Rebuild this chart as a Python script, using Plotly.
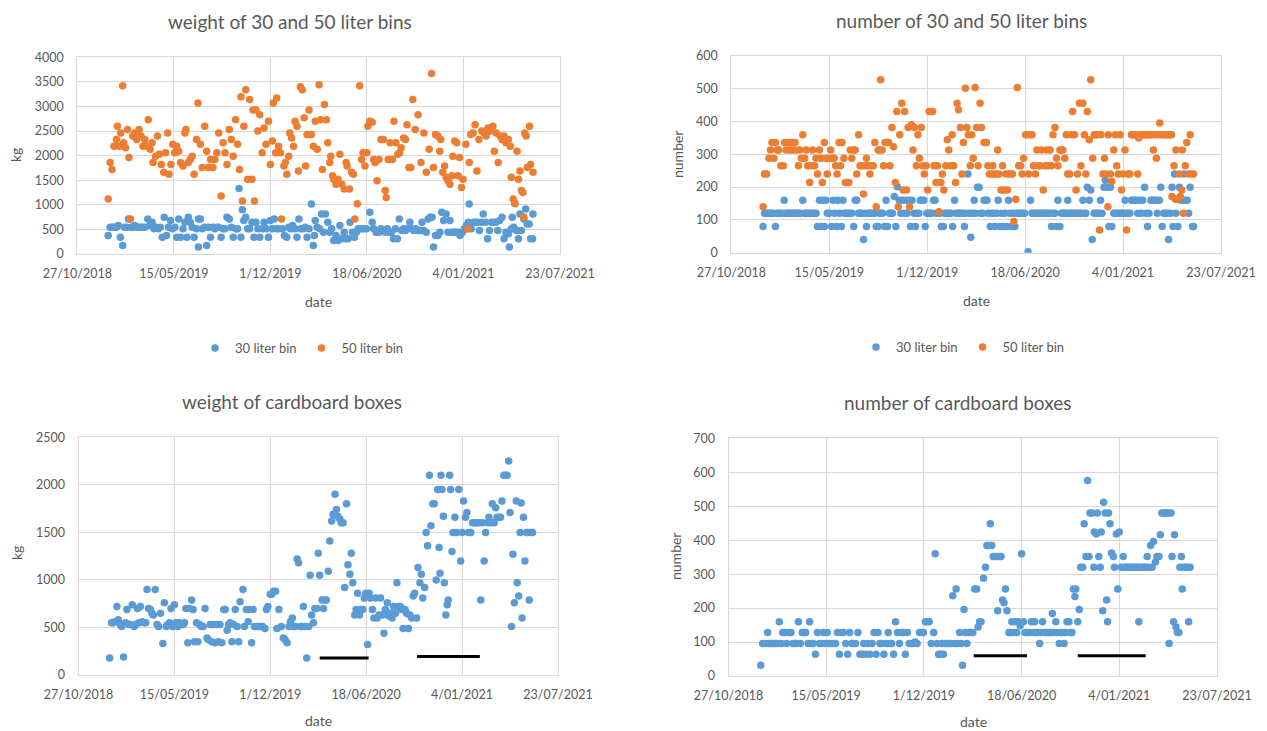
import pandas as pd
import plotly.graph_objects as go

START = pd.Timestamp("2018-10-27")
X_END = "2021-07-23"
x_tick_days = [0, 200, 400, 600, 800, 1000]
x_tick_labels = ["27/10/2018", "15/05/2019", "1/12/2019", "18/06/2020", "4/01/2021", "23/07/2021"]

# ---- data: (days since 27/10/2018, value) ----
bin30_weight = [(64,377),(68,545),(72,545),(76,545),(81,545),(85,579),(89,343),(94,175),(98,545),(102,545),
(106,713),(111,545),(115,545),(119,579),(123,545),(128,545),(132,545),(136,545),(140,545),(146,713),
(150,579),(155,646),(159,511),(163,545),(168,511),(172,545),(176,343),(180,747),(185,377),(189,545),
(193,680),(197,511),(202,545),(206,343),(210,713),(214,343),(219,511),(223,646),(227,343),(230,747),
(234,646),(238,545),(242,343),(247,511),(251,713),(251,141),(255,713),(259,511),(264,545),(268,175),
(272,545),(276,343),(281,545),(285,511),(289,545),(293,545),(298,343),(302,511),(306,511),(310,747),
(315,713),(319,545),(323,343),(328,511),(332,511),(335,1332),(339,343),(342,902),(345,680),(349,747),
(353,511),(357,511),(362,646),(366,343),(370,646),(374,511),(378,343),(383,511),(387,646),(391,511),
(396,343),(400,680),(404,511),(408,713),(413,511),(417,511),(425,511),(429,377),(434,343),(438,545),
(442,511),(446,579),(451,511),(455,343),(459,713),(463,511),(468,511),(472,545),(476,343),(480,511),
(485,1016),(489,175),(491,377),(493,680),(497,545),(502,511),(506,814),(510,444),(514,814),(519,646),
(523,444),(527,511),(531,276),(536,377),(540,276),(544,579),(548,310),(553,444),(557,310),(561,310),
(565,646),(570,444),(574,343),(578,444),(582,511),(587,511),(591,511),(595,511),(599,511),(606,848),
(611,646),(614,511),(619,444),(625,444),(629,511),(634,478),(638,444),(642,511),(646,444),(651,444),
(655,310),(659,511),(663,310),(667,713),(672,478),(676,511),(680,478),(684,511),(689,646),(693,511),
(697,478),(701,511),(706,478),(710,478),(714,646),(718,478),(723,444),(727,713),(731,747),(735,747),
(738,141),(742,377),(747,377),(751,444),(755,848),(759,680),(764,814),(768,444),(772,680),(776,444),
(781,444),(785,444),(789,444),(793,377),(798,444),(802,511),(806,579),(810,646),(812,1016),(816,511),
(820,646),(824,646),(829,646),(833,478),(837,646),(841,814),(846,646),(850,310),(854,478),(858,646),
(863,646),(867,646),(871,478),(875,680),(880,747),(884,310),(888,444),(893,411),(895,141),(899,511),
(901,747),(904,545),(906,1036),(910,478),(914,310),(917,814),(920,478),(925,713),(929,915),(932,612),
(936,612),(939,310),(943,310),(944,814)]

bin50_weight = [(64,1120),(68,1860),(72,1720),(76,2190),(81,2330),(83,2600),(87,2190),(90,2460),(94,3420),(96,2260),
(100,2160),(104,2530),(107,1960),(110,710),(115,2400),(119,2460),(123,2330),(128,2530),(132,2400),(136,2190),
(140,2330),(145,2190),(147,2730),(151,2130),(155,2260),(157,1860),(162,1990),(166,2400),(170,2030),(174,1820),
(179,1660),(183,2060),(187,2460),(190,1620),(194,1820),(198,2230),(202,2060),(206,2190),(210,2090),(214,1860),
(219,1790),(223,2460),(225,2530),(230,1860),(234,1920),(238,1990),(242,1620),(247,2330),(250,3070),(255,2230),
(259,1760),(264,2600),(268,2090),(272,1760),(276,1920),(281,1760),(285,1920),(289,2060),(293,2460),(298,1180),
(302,2260),(306,2060),(310,1820),(315,2530),(319,2330),(323,1990),(328,2730),(332,2230),(336,1720),(339,3200),
(342,1080),(345,2600),(349,3340),(353,1520),(357,3140),(362,1520),(364,2930),(367,1080),(370,2930),(374,2500),
(378,2830),(383,2060),(387,2560),(391,2230),(396,2700),(400,1820),(404,2300),(406,3070),(411,2060),(413,3170),
(417,2190),(421,2060),(423,710),(428,1790),(431,1860),(434,1620),(438,1990),(440,2460),(444,2360),(448,2190),
(451,2700),(455,2600),(458,1690),(462,3400),(466,3340),(470,2770),(473,1790),(476,2430),(480,2930),(485,2430),
(489,2190),(493,2700),(497,2130),(501,3440),(504,2730),(508,1720),(512,3040),(516,2730),(519,2260),(523,1860),
(525,1990),(529,1590),(531,1520),(536,1420),(540,1520),(544,2030),(548,1420),(553,1320),(557,1860),(559,1790),
(564,1320),(568,1660),(572,1620),(575,710),(580,1020),(585,3420),(589,1920),(592,2060),(596,1790),(600,2060),
(602,2600),(606,2700),(611,2680),(614,1920),(617,1860),(621,1490),(625,1920),(629,2330),(634,2330),(638,1290),
(640,1150),(644,1920),(648,2260),(653,1920),(656,2700),(660,2260),(664,2030),(668,2060),(671,2160),(676,2360),
(680,2330),(683,2630),(687,1760),(691,1760),(695,3140),(700,2530),(706,2830),(712,1860),(718,2460),(723,1660),
(729,2130),(734,3670),(738,1760),(742,2430),(747,2400),(751,2090),(753,2330),(757,1660),(761,1790),(764,1560),
(768,1490),(772,1420),(776,1590),(778,1990),(782,2300),(786,2260),(789,1590),(792,1960),(796,1350),(799,1520),
(805,2230),(809,510),(812,1860),(815,2430),(820,2460),(824,2630),(828,1690),(832,2330),(838,2500),(843,2460),
(847,2400),(851,2560),(855,2500),(861,2600),(864,2090),(868,2460),(872,1860),(876,2400),(880,2330),(884,2400),
(888,2260),(893,2330),(897,2190),(899,1560),(903,1120),(907,1020),(911,2090),(914,1520),(917,1690),(920,1290),
(923,1250),(925,750),(927,2460),(930,2400),(932,1760),(937,2600),(939,1820),(944,1660)]

bin30_count = [(65,80),(68,120),(72,120),(75,120),(78,120),(82,120),(85,120),(90,80),(93,120),(97,120),
(100,120),(103,120),(108,160),(111,120),(115,120),(118,120),(121,120),(125,120),(128,120),(131,120),
(135,120),(138,120),(141,120),(146,160),(150,120),(153,120),(156,120),(160,120),(163,120),(166,120),
(170,120),(173,120),(176,80),(180,160),(183,80),(186,160),(190,80),(193,160),(196,120),(200,120),
(205,80),(208,160),(211,120),(215,80),(218,160),(221,120),(225,80),(228,160),(231,120),(235,120),
(238,120),(241,120),(246,120),(250,80),(253,160),(256,160),(260,120),(263,120),(266,120),(270,40),
(273,120),(276,80),(280,120),(283,120),(286,120),(290,120),(293,120),(296,80),(300,80),(303,120),
(306,120),(309,120),(313,80),(316,160),(319,80),(323,120),(326,120),(329,120),(333,171),(336,80),
(339,201),(343,160),(346,120),(349,160),(353,120),(356,160),(359,120),(363,160),(366,80),(369,160),
(373,120),(376,80),(379,120),(383,120),(386,160),(389,160),(393,160),(396,80),(399,120),(403,120),
(406,120),(409,120),(413,160),(416,160),(419,120),(423,120),(426,120),(429,80),(433,80),(436,120),
(439,120),(443,120),(446,120),(449,120),(452,80),(456,160),(459,120),(463,120),(466,120),(469,120),
(473,120),(476,80),(479,120),(483,240),(486,120),(489,47),(493,120),(496,160),(499,120),(503,199),
(506,199),(509,120),(513,120),(516,160),(519,160),(522,160),(524,120),(529,80),(532,120),(536,120),
(539,80),(542,120),(545,160),(549,80),(552,120),(555,80),(559,120),(562,80),(566,160),(569,120),
(572,80),(575,120),(579,80),(582,120),(585,120),(589,120),(592,120),(595,120),(599,120),(606,3),
(611,160),(614,120),(617,120),(621,120),(624,120),(627,120),(631,120),(634,120),(637,120),(641,120),
(644,120),(647,120),(651,120),(654,80),(657,120),(661,120),(664,80),(667,160),(671,80),(674,120),
(677,120),(681,120),(684,120),(687,160),(691,120),(694,120),(697,120),(701,120),(704,120),(707,120),
(711,120),(714,120),(718,160),(721,120),(724,120),(727,199),(731,160),(734,191),(737,40),(741,120),
(744,120),(747,120),(751,120),(754,160),(757,120),(761,199),(764,221),(768,199),(771,80),(774,199),
(777,80),(781,120),(784,120),(787,120),(790,120),(794,120),(797,120),(800,120),(804,160),(807,120),
(810,120),(814,120),(817,160),(820,160),(824,160),(827,160),(830,120),(834,160),(837,120),(840,160),
(844,199),(847,120),(850,80),(853,120),(857,160),(860,160),(864,160),(867,160),(870,120),(874,160),
(877,199),(880,80),(883,120),(887,120),(890,120),(893,40),(897,120),(900,199),(902,80),(905,240),
(908,120),(912,80),(915,199),(918,160),(921,160),(924,240),(927,160),(931,160),(934,120),(937,199),
(942,80),(944,80)]

bin50_count = [(65,140),(68,240),(72,240),(77,288),(80,313),(83,336),(87,288),(90,336),(94,313),(97,313),
(101,265),(106,265),(109,336),(112,313),(116,336),(120,313),(123,336),(126,313),(130,336),(133,313),
(137,265),(140,313),(143,288),(146,359),(150,288),(153,313),(156,265),(160,214),(163,265),(166,313),
(170,265),(173,288),(176,240),(180,313),(183,288),(186,214),(190,336),(193,288),(196,240),(200,288),
(203,313),(206,288),(210,288),(213,265),(216,240),(220,336),(223,265),(226,336),(230,288),(233,214),
(236,214),(240,214),(243,313),(246,288),(250,313),(253,313),(256,240),(260,359),(263,265),(266,265),
(270,179),(273,265),(276,288),(280,265),(283,240),(286,265),(290,265),(293,336),(296,140),(300,313),
(303,313),(305,527),(308,313),(311,265),(314,336),(318,336),(321,336),(324,265),(328,381),(331,323),
(335,214),(338,430),(341,140),(344,359),(348,455),(351,191),(354,430),(358,191),(361,381),(364,140),
(368,390),(371,313),(374,381),(378,265),(381,359),(384,288),(388,381),(391,265),(394,240),(398,265),
(401,191),(404,430),(408,430),(411,430),(414,265),(418,214),(421,265),(424,125),(428,214),(431,240),
(434,191),(438,265),(441,344),(444,313),(448,265),(451,359),(454,265),(458,214),(461,455),(464,435),
(468,381),(471,240),(474,336),(478,501),(481,381),(484,359),(488,265),(491,359),(494,288),(498,503),
(501,381),(504,265),(508,455),(511,381),(516,336),(521,336),(524,265),(527,240),(531,240),(534,265),
(537,240),(541,240),(544,313),(547,240),(551,191),(554,265),(557,191),(561,240),(564,191),(567,240),
(571,240),(574,240),(577,95),(581,163),(584,503),(587,265),(591,265),(594,240),(597,288),(601,359),
(604,359),(607,240),(611,359),(614,359),(617,265),(621,240),(624,313),(627,265),(631,265),(634,313),
(637,191),(641,265),(644,313),(647,265),(651,313),(654,265),(657,359),(661,381),(664,288),(667,265),
(671,313),(674,313),(677,313),(681,288),(684,359),(687,240),(691,240),(694,359),(697,430),(701,359),
(704,191),(707,240),(711,455),(714,265),(718,455),(721,359),(724,240),(727,430),(731,344),(734,527),
(738,288),(741,359),(744,359),(747,359),(752,69),(755,359),(759,240),(762,288),(765,240),(769,140),
(770,359),(774,240),(777,217),(781,313),(784,359),(787,265),(790,240),(794,359),(797,191),(800,240),
(804,313),(807,69),(810,240),(814,240),(817,359),(820,359),(824,359),(827,359),(830,240),(832,349),
(835,359),(839,359),(842,359),(845,359),(848,359),(852,359),(855,359),(858,359),(862,313),(865,359),
(868,288),(872,359),(875,395),(879,359),(882,359),(885,359),(889,359),(892,359),(895,359),(899,359),
(900,171),(904,265),(907,163),(908,313),(912,163),(915,240),(917,171),(920,191),(921,313),(923,120),
(927,265),(930,336),(933,240),(937,359),(940,240),(944,240)]

cardboard_weight = [(65,180),(69,550),(72,550),(76,560),(80,720),(83,580),(87,530),(90,510),(94,190),(98,550),
(101,690),(105,530),(108,530),(112,740),(116,510),(119,530),(123,700),(126,550),(129,720),(133,560),
(136,550),(140,550),(143,900),(146,700),(150,690),(153,650),(156,630),(160,900),(164,530),(167,510),
(171,650),(176,330),(179,760),(183,510),(186,530),(190,550),(193,700),(196,510),(200,740),(203,550),
(207,510),(210,550),(213,530),(218,530),(221,550),(224,700),(228,340),(231,700),(236,790),(239,690),
(242,350),(246,550),(249,350),(253,530),(256,510),(260,510),(264,700),(268,390),(271,370),(275,530),
(278,350),(281,530),(285,340),(288,530),(292,350),(295,530),(299,340),(303,690),(306,690),(310,470),
(313,530),(316,550),(320,350),(323,530),(327,690),(331,510),(334,350),(337,770),(343,900),(346,510),
(350,690),(354,560),(357,690),(361,340),(364,690),(367,510),(371,510),(374,510),(378,510),(381,510),
(384,510),(389,490),(392,690),(395,720),(400,850),(403,850),(407,880),(411,880),(414,490),(418,690),
(423,510),(427,390),(431,370),(435,340),(439,510),(442,560),(446,600),(449,510),(452,510),(456,1220),
(459,1180),(463,510),(466,510),(469,720),(473,510),(476,180),(480,510),(483,1050),(486,630),(490,550),
(493,700),(497,700),(500,1280),(503,1050),(508,790),(511,700),(514,790),(517,790),(521,1090),(524,1410),
(528,1620),(531,1690),(535,1900),(538,1740),(541,1670),(545,1640),(548,1600),(552,1600),(555,920),(559,1800),
(562,1160),(566,1060),(569,1280),(572,970),(576,630),(579,690),(582,860),(586,630),(589,690),(593,690),
(596,810),(599,860),(603,320),(606,860),(609,810),(613,690),(616,600),(620,810),(623,600),(627,630),
(630,810),(634,630),(637,440),(640,690),(644,760),(647,620),(650,650),(654,600),(657,720),(661,650),
(664,970),(667,720),(671,720),(674,690),(677,490),(681,690),(684,650),(688,490),(691,630),(695,600),
(698,830),(701,860),(705,600),(708,1130),(712,970),(715,1060),(718,810),(722,920),(725,1500),(728,1360),
(732,2100),(735,1570),(739,1800),(742,1800),(746,1000),(749,1950),(752,1340),(754,1070),(756,2100),(758,1950),
(761,1670),(763,970),(766,630),(769,740),(771,790),(774,2100),(776,1950),(779,1300),(781,1500),(785,1660),
(788,1500),(793,1950),(797,1200),(800,1500),(803,1830),(807,1660),(810,1710),(813,1500),(818,1500),(822,1600),
(826,1600),(829,1600),(832,1600),(836,1600),(839,790),(843,1600),(846,1200),(849,1500),(854,1600),(856,1660),
(860,1600),(863,1800),(867,1600),(870,1760),(873,1660),(877,1660),(880,1660),(883,1830),(887,2100),(890,2100),
(894,2100),(897,2250),(900,1710),(903,510),(906,1270),(909,760),(913,1830),(915,970),(918,830),(921,1500),
(923,1810),(925,600),(928,1660),(931,1200),(934,1500),(937,1500),(940,790),(944,1500),(947,1500)]

cardboard_count = [(66,32),(70,96),(75,96),(80,128),(83,96),(87,96),(91,96),(95,96),(100,96),(104,160),
(108,96),(111,128),(115,128),(119,96),(124,128),(128,128),(132,96),(136,96),(139,96),(143,160),
(147,96),(151,128),(154,128),(158,128),(163,96),(166,160),(169,96),(173,96),(178,64),(182,128),
(186,96),(190,96),(194,128),(198,96),(202,128),(206,96),(211,96),(215,96),(219,96),(223,128),
(227,64),(231,128),(235,128),(240,96),(244,64),(248,128),(252,96),(256,96),(260,96),(265,128),
(269,64),(273,64),(277,96),(281,64),(285,96),(289,64),(294,96),(298,128),(302,64),(306,128),
(310,96),(314,96),(318,64),(323,96),(327,128),(331,96),(334,96),(338,64),(342,160),(346,128),
(350,96),(354,128),(358,128),(362,64),(366,128),(370,96),(374,96),(378,96),(382,100),(386,96),
(391,128),(395,128),(399,128),(403,160),(407,160),(411,160),(415,96),(420,128),(423,360),(427,96),
(430,64),(434,64),(437,96),(440,64),(444,96),(447,96),(451,96),(455,96),(459,236),(463,96),
(466,256),(469,96),(473,128),(476,96),(479,32),(482,196),(485,128),(488,96),(492,128),(496,128),
(500,128),(504,256),(508,256),(511,144),(514,160),(517,160),(522,288),(526,320),(529,384),(533,384),
(536,448),(539,384),(542,352),(546,352),(549,352),(551,192),(555,352),(558,352),(561,224),(564,216),
(567,256),(570,192),(574,128),(577,128),(580,160),(584,128),(587,160),(590,128),(594,160),(597,148),
(600,360),(604,160),(607,128),(610,128),(614,128),(617,128),(620,160),(624,128),(627,160),(630,128),
(634,128),(637,96),(640,128),(643,160),(647,128),(650,128),(653,128),(657,128),(660,128),(663,184),
(667,128),(670,160),(673,128),(677,96),(680,128),(683,128),(687,96),(690,128),(693,160),(697,160),
(700,128),(703,128),(706,256),(709,234),(711,256),(715,160),(718,196),(721,320),(725,320),(728,448),
(732,352),(735,576),(738,352),(740,480),(744,480),(748,320),(749,424),(753,418),(755,480),(758,352),
(761,320),(763,424),(766,192),(768,512),(771,480),(774,224),(776,160),(778,480),(781,448),(784,362),
(788,352),(790,320),(794,418),(797,256),(800,424),(804,320),(808,352),(811,320),(814,320),(818,320),
(821,320),(824,320),(828,320),(831,320),(834,320),(838,320),(840,160),(844,320),(847,320),(851,320),
(854,320),(857,352),(860,320),(864,384),(867,320),(870,396),(874,336),(877,352),(881,352),(884,416),
(887,480),(891,480),(894,480),(897,480),(901,480),(902,96),(906,480),(908,352),(911,160),(913,416),
(916,144),(919,128),(922,128),(924,320),(927,352),(929,256),(932,320),(935,320),(939,320),(942,160),
(945,320)]

# black marker lines drawn on the cardboard charts: (start day, end day, level)
cardboard_weight_bars = [(503, 605, 178), (706, 837, 195)]
cardboard_count_bars = [(502, 611, 60), (715, 854, 60)]

BLUE = "#5B9BD5"
ORANGE = "#ED7D31"
GRID = "#d9d9d9"
TXT = "#595959"
FONT = "Lato, Carlito, Calibri, sans-serif"
# the page body has an 8px margin, so the figure is offset by 8px in the window
OFF = 8
W, H = 1267 - OFF, 731 - OFF


def fx(px):
    return (px - OFF) / W


def fy(py):
    return 1 - (py - OFF) / H


def dates(pairs):
    return [START + pd.Timedelta(days=d) for d, _ in pairs]


def vals(pairs):
    return [v for _, v in pairs]


fig = go.Figure()


def scatter(pairs, color, name, ax, legend=None):
    fig.add_trace(go.Scatter(
        x=dates(pairs), y=vals(pairs), mode="markers", name=name,
        marker=dict(color=color, size=7.5, line=dict(width=0)),
        xaxis="x" + ax, yaxis="y" + ax,
        showlegend=legend is not None, legend=legend or "legend"))


scatter(bin30_weight, BLUE, "30 liter bin", "", "legend")
scatter(bin50_weight, ORANGE, "50 liter bin", "", "legend")
scatter(bin30_count, BLUE, "30 liter bin", "2", "legend2")
scatter(bin50_count, ORANGE, "50 liter bin", "2", "legend2")
scatter(cardboard_weight, BLUE, "cardboard", "3")
scatter(cardboard_count, BLUE, "cardboard", "4")

for bars, ax in ((cardboard_weight_bars, "3"), (cardboard_count_bars, "4")):
    for d0, d1, lvl in bars:
        fig.add_trace(go.Scatter(
            x=[START + pd.Timedelta(days=d0), START + pd.Timedelta(days=d1)],
            y=[lvl, lvl], mode="lines", line=dict(color="black", width=3),
            xaxis="x" + ax, yaxis="y" + ax, showlegend=False, hoverinfo="skip"))

tickvals = [START + pd.Timedelta(days=d) for d in x_tick_days]
TICK = 12.5


def xax(px0, px1, anchor):
    return dict(domain=[fx(px0), fx(px1)], anchor=anchor, type="date",
                range=[START, X_END], tickvals=tickvals, ticktext=x_tick_labels,
                showgrid=True, gridcolor=GRID, gridwidth=1, showline=True,
                linecolor=GRID, mirror=True, ticks="", zeroline=False,
                automargin=False,
                tickfont=dict(family=FONT, size=TICK, color=TXT), ticklabelstandoff=8)


def yax(py0, py1, anchor, top, step):
    return dict(domain=[fy(py1), fy(py0)], anchor=anchor,
                range=[0, top], dtick=step, showgrid=True, gridcolor=GRID,
                gridwidth=1, showline=True, linecolor=GRID, mirror=True,
                ticks="", zeroline=False, tickformat="d", automargin=False,
                tickfont=dict(family=FONT, size=TICK, color=TXT), ticklabelstandoff=10)


fig.update_layout(
    width=W, height=H, margin=dict(l=0, r=0, t=0, b=0, pad=0, autoexpand=False),
    paper_bgcolor="white", plot_bgcolor="white",
    font=dict(family=FONT, color=TXT),
    xaxis=xax(77.3, 560, "y"), yaxis=yax(57.3, 254, "x", 4000, 500),
    xaxis2=xax(731.3, 1221, "y2"), yaxis2=yax(55.7, 252.7, "x2", 600, 100),
    xaxis3=xax(78.5, 558, "y3"), yaxis3=yax(437.3, 675, "x3", 2500, 500),
    xaxis4=xax(728.5, 1217, "y4"), yaxis4=yax(438.3, 676, "x4", 700, 100),
    legend=dict(orientation="h", x=fx(302), y=fy(348), xanchor="center",
                yanchor="middle", font=dict(family=FONT, size=13, color=TXT),
                bgcolor="rgba(0,0,0,0)", itemwidth=30),
    legend2=dict(orientation="h", x=fx(963), y=fy(347), xanchor="center",
                 yanchor="middle", font=dict(family=FONT, size=13, color=TXT),
                 bgcolor="rgba(0,0,0,0)", itemwidth=30),
)

texts = [
    ("weight of 30 and 50 liter bins", 290, 21.7, 19, 0),
    ("number of 30 and 50 liter bins", 961, 20, 19, 0),
    ("weight of cardboard boxes", 292, 401.7, 19, 0),
    ("number of cardboard boxes", 958, 402.7, 19, 0),
    ("kg", 16, 155, 14, -90),
    ("date", 318, 301.7, 14, 0),
    ("number", 678, 155, 14, -90),
    ("date", 976, 300, 14, 0),
    ("kg", 16, 553, 14, -90),
    ("date", 318, 720, 14, 0),
    ("number", 675, 557, 14, -90),
    ("date", 973, 721.7, 14, 0),
]
for t, px, py, sz, ang in texts:
    fig.add_annotation(text=t, x=fx(px), y=fy(py), xref="paper", yref="paper",
                       showarrow=False, xanchor="center", yanchor="middle",
                       textangle=ang, font=dict(family=FONT, size=sz, color=TXT))

fig.write_html("out.html")
